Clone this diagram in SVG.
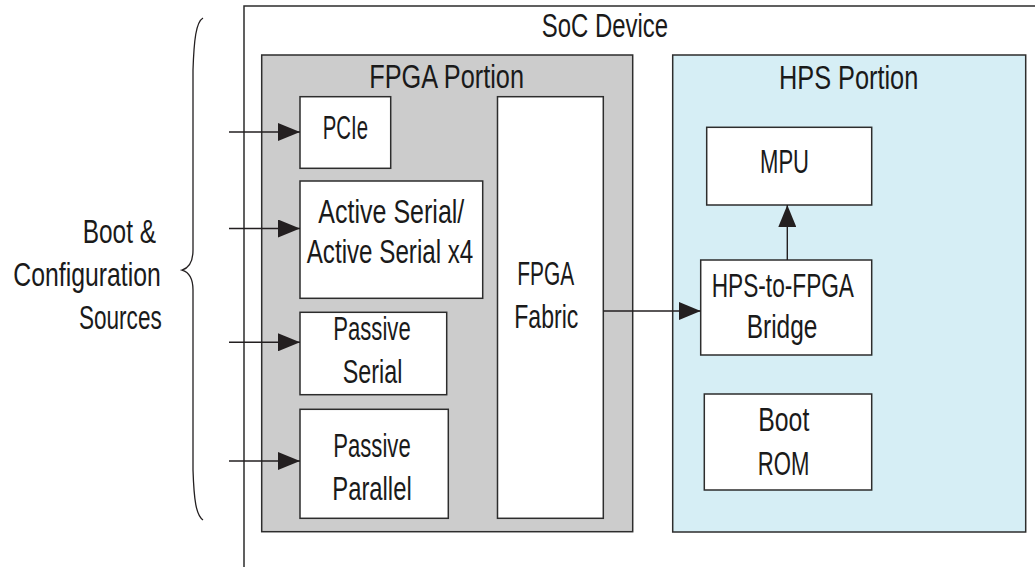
<svg xmlns="http://www.w3.org/2000/svg" width="1035" height="567" viewBox="0 0 1035 567">
<style>
.box{fill:#ffffff;stroke:#2d2d2d;stroke-width:1.5}
.fpga{fill:#cccccc;stroke:#2d2d2d;stroke-width:1.5}
.hps{fill:#d6eef5;stroke:#2d2d2d;stroke-width:1.5}
.outer{fill:none;stroke:#2d2d2d;stroke-width:1.5}
.t{font-family:"Liberation Sans",Arial,sans-serif;font-size:34px;fill:#1a1a1a}
.conn line{stroke:#231f20;stroke-width:1.4;marker-end:url(#ah)}
.brace{fill:none;stroke:#231f20;stroke-width:1.3}
</style>
<defs>
<marker id="ah" markerUnits="userSpaceOnUse" markerWidth="22" markerHeight="18" refX="22" refY="9" orient="auto">
<path d="M0,0 L22,9 L0,18 z" fill="#231f20"/>
</marker>
</defs>
<rect width="1035" height="567" fill="#ffffff"/>
<g id="soc-device">
<path class="outer" d="M244,567 V6 H1036"/>
<text class="t" transform="scale(0.72,1)" x="752.4" y="37.3" textLength="175.4" lengthAdjust="spacingAndGlyphs">SoC Device</text>
</g>
<g id="fpga-portion">
<rect class="fpga" x="261.7" y="55" width="371" height="476.7"/>
<text class="t" transform="scale(0.72,1)" x="512.9" y="88.3" textLength="214.9" lengthAdjust="spacingAndGlyphs">FPGA Portion</text>
</g>
<g id="hps-portion">
<rect class="hps" x="672.7" y="55" width="353" height="477"/>
<text class="t" transform="scale(0.72,1)" x="1081.9" y="89.3" textLength="193.5" lengthAdjust="spacingAndGlyphs">HPS Portion</text>
</g>
<g id="pcie">
<rect class="box" x="300" y="96.7" width="90.7" height="71.6"/>
<text class="t" transform="scale(0.72,1)" x="448.2" y="139.3" textLength="62.9" lengthAdjust="spacingAndGlyphs">PCIe</text>
</g>
<g id="active-serial">
<rect class="box" x="300" y="181" width="182.7" height="117.3"/>
<text class="t" transform="scale(0.72,1)" x="442.1" y="223.3" textLength="202.8" lengthAdjust="spacingAndGlyphs">Active Serial/</text>
<text class="t" transform="scale(0.72,1)" x="426" y="263.3" textLength="231.4" lengthAdjust="spacingAndGlyphs">Active Serial x4</text>
</g>
<g id="passive-serial">
<rect class="box" x="300" y="312.3" width="146.7" height="82.4"/>
<text class="t" transform="scale(0.72,1)" x="462.9" y="340" textLength="107.5" lengthAdjust="spacingAndGlyphs">Passive</text>
<text class="t" transform="scale(0.72,1)" x="476" y="383.3" textLength="82.8" lengthAdjust="spacingAndGlyphs">Serial</text>
</g>
<g id="passive-parallel">
<rect class="box" x="300" y="409.3" width="148.3" height="109"/>
<text class="t" transform="scale(0.72,1)" x="462.9" y="456.7" textLength="107.5" lengthAdjust="spacingAndGlyphs">Passive</text>
<text class="t" transform="scale(0.72,1)" x="461.5" y="500" textLength="110.3" lengthAdjust="spacingAndGlyphs">Parallel</text>
</g>
<g id="fpga-fabric">
<rect class="box" x="497.5" y="96.7" width="105.8" height="421.6"/>
<text class="t" transform="scale(0.72,1)" x="718.5" y="285" textLength="79.2" lengthAdjust="spacingAndGlyphs">FPGA</text>
<text class="t" transform="scale(0.72,1)" x="714.3" y="328.3" textLength="88.9" lengthAdjust="spacingAndGlyphs">Fabric</text>
</g>
<g id="mpu">
<rect class="box" x="706.7" y="127.3" width="165" height="77.7"/>
<text class="t" transform="scale(0.72,1)" x="1055.6" y="173.3" textLength="68.1" lengthAdjust="spacingAndGlyphs">MPU</text>
</g>
<g id="hps-to-fpga-bridge">
<rect class="box" x="700.7" y="260" width="171" height="95"/>
<text class="t" transform="scale(0.72,1)" x="988.5" y="297.3" textLength="197.6" lengthAdjust="spacingAndGlyphs">HPS-to-FPGA</text>
<text class="t" transform="scale(0.72,1)" x="1037.1" y="338.3" textLength="98.1" lengthAdjust="spacingAndGlyphs">Bridge</text>
</g>
<g id="boot-rom">
<rect class="box" x="704.3" y="394" width="167.4" height="96"/>
<text class="t" transform="scale(0.72,1)" x="1053.2" y="431" textLength="70.8" lengthAdjust="spacingAndGlyphs">Boot</text>
<text class="t" transform="scale(0.72,1)" x="1052.4" y="475" textLength="71.7" lengthAdjust="spacingAndGlyphs">ROM</text>
</g>
<g id="boot-config-sources">
<path class="brace" d="M203,18 C196,22 194,40 193,70 L193,250 C193,262 189,268 182,270 C189,272 193,278 193,290 L193,470 C194,500 196,515 203,520"/>
<text class="t" transform="scale(0.72,1)" x="114.9" y="242.7" textLength="101.8" lengthAdjust="spacingAndGlyphs">Boot &amp;</text>
<text class="t" transform="scale(0.72,1)" x="18.5" y="286" textLength="204.7" lengthAdjust="spacingAndGlyphs">Configuration</text>
<text class="t" transform="scale(0.72,1)" x="109.7" y="329.3" textLength="114.9" lengthAdjust="spacingAndGlyphs">Sources</text>
</g>
<g id="connectors" class="conn">
<line x1="229" y1="132" x2="300" y2="132"/>
<line x1="229" y1="228.5" x2="300" y2="228.5"/>
<line x1="229" y1="342.3" x2="300" y2="342.3"/>
<line x1="229" y1="461" x2="300" y2="461"/>
<line x1="603.3" y1="311" x2="700.7" y2="311"/>
<line x1="787.3" y1="260" x2="787.3" y2="205"/>
</g>
</svg>
